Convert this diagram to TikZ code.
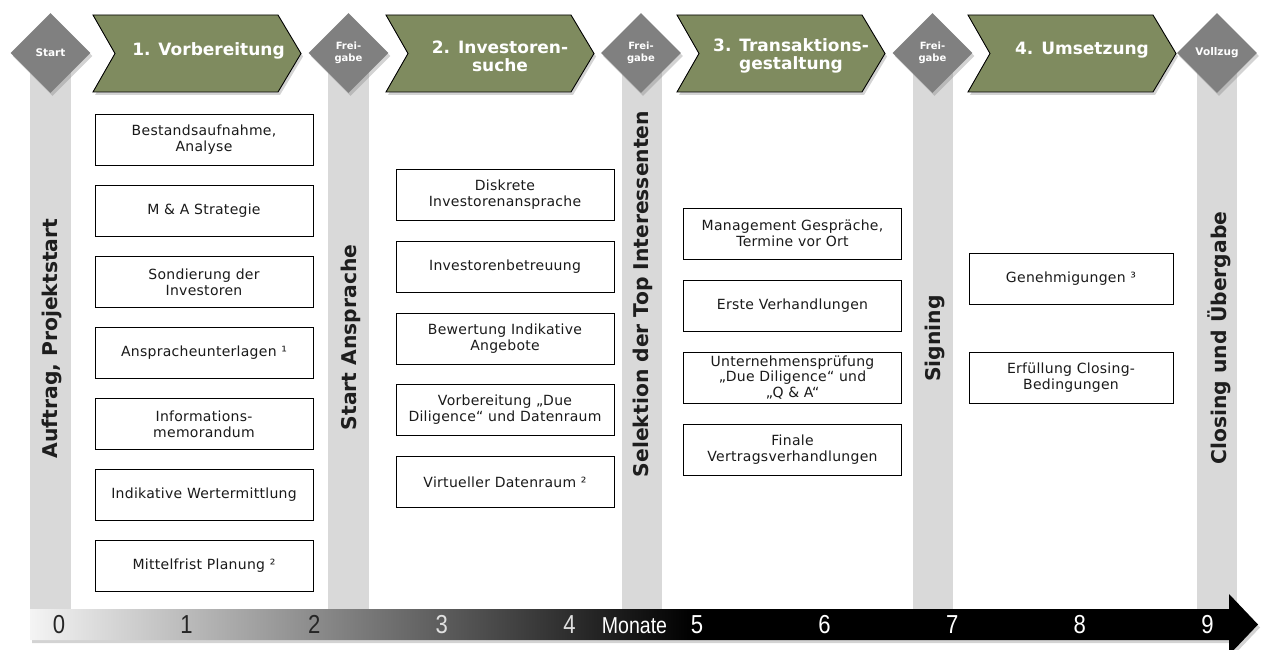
\documentclass[tikz,border=0pt]{standalone}
\usepackage{fontspec}
\usetikzlibrary{shapes.geometric,shadows}
\setmainfont{DejaVu Sans}
\newfontfamily\boxfont{DejaVu Sans}[LetterSpace=2]
\newfontfamily\headfont{DejaVu Sans}
\newfontfamily\axfont{Liberation Sans}[FakeStretch=0.85]
\definecolor{chevgreen}{HTML}{7F8B5F}
\definecolor{diagray}{HTML}{808080}
\definecolor{bargray}{HTML}{D9D9D9}
\definecolor{axL}{HTML}{F4F4F4}
\definecolor{labcol}{HTML}{1E1E1E}
\definecolor{textcol}{HTML}{1A1A1A}
\definecolor{numdark}{HTML}{262626}
\definecolor{numlight}{HTML}{E0E0E0}
\pgfdeclarehorizontalshading{axshade}{100bp}{color(0bp)=(axL); color(25bp)=(axL); color(52bp)=(black); color(100bp)=(black)}
\tikzset{
  softshadow/.style={drop shadow={opacity=0.35, shadow xshift=2pt, shadow yshift=-3pt}},
  chev/.style={fill=chevgreen, draw=black, line width=0.9pt, softshadow},
  chevtext/.style={text=white, font=\headfont\bfseries\fontsize{17}{18}\selectfont, align=center, inner sep=0pt},
  dia/.style={shape=diamond, fill=diagray, minimum width=80pt, minimum height=80pt, inner sep=0pt, text=white, align=center, softshadow, font=\headfont\bfseries\fontsize{10.5}{12}\selectfont},
  diasmall/.style={dia, font=\headfont\bfseries\fontsize{10}{11.5}\selectfont},
  bar/.style={fill=bargray},
  vlab/.style={rotate=90, font=\headfont\bfseries\fontsize{20.3}{22}\selectfont, text=labcol, inner sep=0pt},
  task/.style={draw=black, line width=1pt, fill=white, minimum width=218pt, minimum height=51pt, inner sep=0pt, align=center, font=\boxfont\fontsize{14}{15.8}\selectfont, text=textcol},
  num/.style={font=\axfont\fontsize{26}{26}\selectfont, inner sep=0pt},
  axis/.style={shading=axshade, softshadow},
}
\begin{document}
\begin{tikzpicture}[x=1pt,y=-1pt]
\useasboundingbox (0,0) rectangle (1261,650);
% vertical milestone bars
\fill[bar] (30,53) rectangle (71,609);
\fill[bar] (328,53) rectangle (369,609);
\fill[bar] (622,53) rectangle (662,609);
\fill[bar] (913,53) rectangle (953,609);
\fill[bar] (1197,53) rectangle (1237,609);
% timeline axis
\path[axis] (30,609) -- (1229,609) -- (1229,594) -- (1258,624.5) -- (1229,655) -- (1229,640) -- (30,640) -- cycle;
% chevrons
\path[chev] (93,15) -- (278,15) -- (301,53.5) -- (278,92) -- (93,92) -- (115,53.5) -- cycle;
\path[chev] (386,15) -- (571,15) -- (594,53.5) -- (571,92) -- (386,92) -- (408,53.5) -- cycle;
\path[chev] (677,15) -- (862,15) -- (885,53.5) -- (862,92) -- (677,92) -- (699,53.5) -- cycle;
\path[chev] (968,15) -- (1153,15) -- (1176,53.5) -- (1153,92) -- (968,92) -- (990,53.5) -- cycle;
\node[chevtext] (c1) at (208.5,50.5) {1. Vorbereitung};
\node[chevtext] (c2) at (500,56) {2. Investoren-\\suche};
\node[chevtext] (c3) at (791,56) {3. Transaktions-\\gestaltung};
\node[chevtext] (c4) at (1082,50.5) {4. Umsetzung};
% diamonds
\node[dia] (d1) at (50.5,53) {Start};
\node[diasmall] (d2) at (348.5,53) {Frei-\\gabe};
\node[diasmall] (d3) at (641,53) {Frei-\\gabe};
\node[diasmall] (d4) at (932.5,53) {Frei-\\gabe};
\node[dia] (d5) at (1217,53) {Vollzug};
% vertical labels
\node[vlab] (v1) at (52,338.5) {Auftrag, Projektstart};
\node[vlab] (v2) at (351,337.5) {Start Ansprache};
\node[vlab] (v3) at (643,294) {Selektion der Top Interessenten};
\node[vlab] (v4) at (935,338.5) {Signing};
\node[vlab] (v5) at (1219,338) {Closing und Übergabe};
% column 1
\node[task] (a1) at (204,140) {Bestandsaufnahme,\\Analyse};
\node[task] (a2) at (204,211) {M \& A Strategie};
\node[task] (a3) at (204,282) {Sondierung der\\Investoren};
\node[task] (a4) at (204,353) {Anspracheunterlagen ¹};
\node[task] (a5) at (204,424) {Informations-\\memorandum};
\node[task] (a6) at (204,495) {Indikative Wertermittlung};
\node[task] (a7) at (204,566) {Mittelfrist Planung ²};
% column 2
\node[task] (b1) at (505,195) {Diskrete\\Investorenansprache};
\node[task] (b2) at (505,267) {Investorenbetreuung};
\node[task] (b3) at (505,338.5) {Bewertung Indikative\\Angebote};
\node[task] (b4) at (505,410) {Vorbereitung „Due\\Diligence“ und Datenraum};
\node[task] (b5) at (505,482) {Virtueller Datenraum ²};
% column 3
\node[task] (e1) at (792.5,233.5) {Management Gespräche,\\Termine vor Ort};
\node[task] (e2) at (792.5,305.5) {Erste Verhandlungen};
\node[task] (e3) at (792.5,377.5) {Unternehmensprüfung\\„Due Diligence“ und\\„Q \& A“};
\node[task] (e4) at (792.5,449.5) {Finale\\Vertragsverhandlungen};
% column 4
\node[task, minimum width=204pt] (f1) at (1071,278.5) {Genehmigungen ³};
\node[task, minimum width=204pt] (f2) at (1071,377.5) {Erfüllung Closing-\\Bedingungen};
% axis numbers
\node[num, text=numdark] (n0) at (59,624.5) {0};
\node[num, text=numdark] (n1) at (186.6,624.5) {1};
\node[num, text=numdark] (n2) at (314.2,624.5) {2};
\node[num, text=numlight] (n3) at (441.8,624.5) {3};
\node[num, text=numlight] (n4) at (569.4,624.5) {4};
\node[num, text=white, font=\axfont\fontsize{23}{23}\selectfont] (mon) at (634.5,625.5) {Monate};
\node[num, text=white] (n5) at (697,624.5) {5};
\node[num, text=white] (n6) at (824.6,624.5) {6};
\node[num, text=white] (n7) at (952.2,624.5) {7};
\node[num, text=white] (n8) at (1079.8,624.5) {8};
\node[num, text=white] (n9) at (1207.4,624.5) {9};
\end{tikzpicture}
\end{document}
